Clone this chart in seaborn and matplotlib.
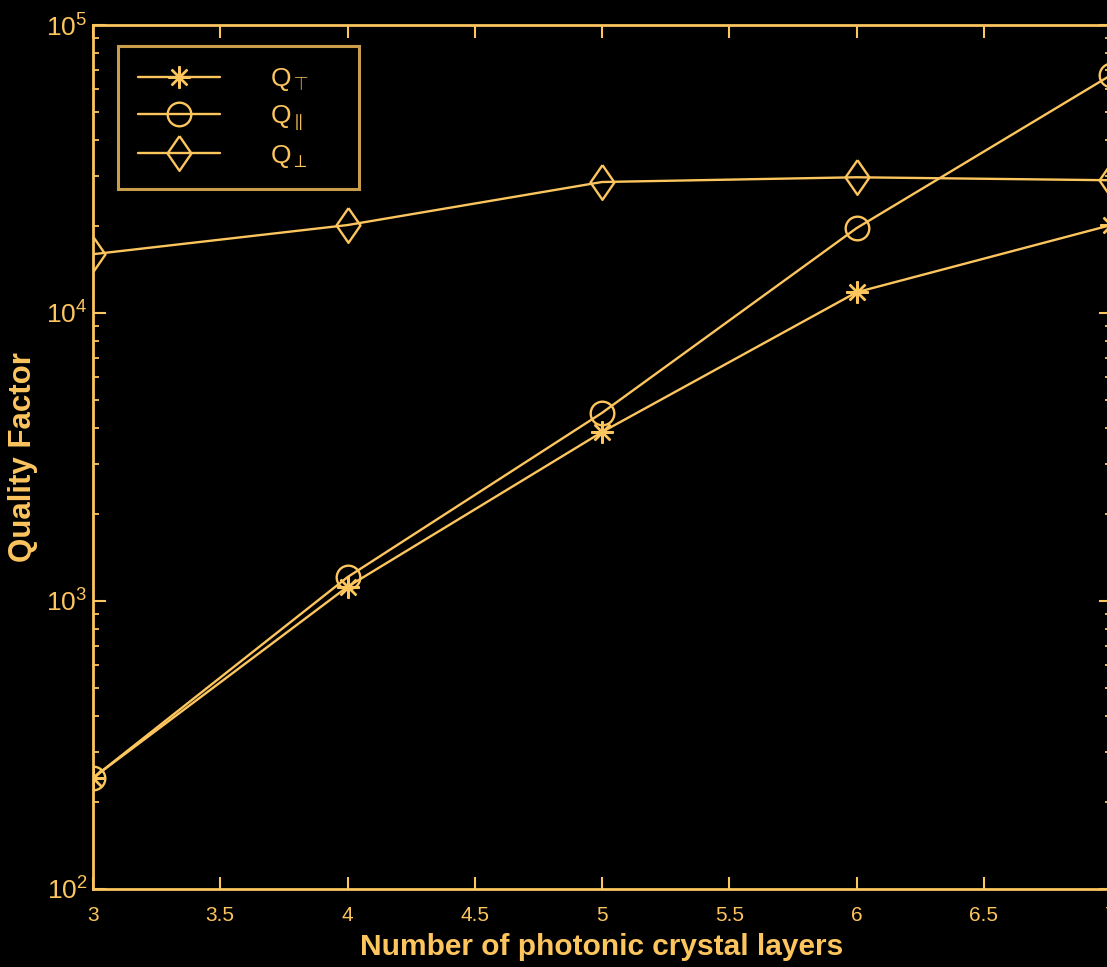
import matplotlib
matplotlib.use("Agg")
import matplotlib.pyplot as plt
import numpy as np
import pandas as pd
import seaborn as sns
from matplotlib import font_manager

# Q factor versus number of photonic crystal layers
layers = [3, 4, 5, 6, 7]
q_total = [243, 1120, 3860, 11800, 20200]
q_parallel = [243, 1210, 4500, 19700, 67000]
q_perp = [16000, 20200, 28500, 29600, 28900]

series_labels = [r"Q$_{\top}$", r"Q$_{\parallel}$", r"Q$_{\perp}$"]
x_ticks = [3, 3.5, 4, 4.5, 5, 5.5, 6, 6.5, 7]
x_tick_labels = ["3", "3.5", "4", "4.5", "5", "5.5", "6", "6.5", "7"]

INK = "#FDC55E"
BG = "#000000"

sns.set_style("ticks", {
    "axes.facecolor": BG,
    "figure.facecolor": BG,
    "axes.edgecolor": INK,
    "xtick.color": INK,
    "ytick.color": INK,
    "text.color": INK,
    "axes.labelcolor": INK,
})

available = {f.name for f in font_manager.fontManager.ttflist}
family = [f for f in ["Liberation Sans Narrow", "Liberation Sans", "DejaVu Sans"] if f in available]
plt.rcParams["font.family"] = family
plt.rcParams["mathtext.fontset"] = "custom"
plt.rcParams["mathtext.rm"] = family[0]
plt.rcParams["mathtext.it"] = family[0]
plt.rcParams["mathtext.sf"] = family[0]

fig = plt.figure(figsize=(11.07, 9.67), dpi=100)
W, H = 1107, 967
# axes box in pixels: left 93, right 1111, top 25, bottom 889
AX_L, AX_R, AX_T, AX_B = 93, 1111, 25, 889
ax = fig.add_axes([AX_L / W, (H - AX_B) / H, (AX_R - AX_L) / W, (AX_B - AX_T) / H])

df = pd.DataFrame({
    "layers": layers * 3,
    "Q": q_total + q_parallel + q_perp,
    "kind": [series_labels[0]] * 5 + [series_labels[1]] * 5 + [series_labels[2]] * 5,
})

# slightly wide diamond outline
diamond = [(0, 1), (0.69, 0), (0, -1), (-0.69, 0), (0, 1)]

marker_styles = {
    series_labels[0]: dict(marker=(8, 2, 0), markersize=16, mfc=INK),
    series_labels[1]: dict(marker="o", markersize=17, mfc="none"),
    series_labels[2]: dict(marker=diamond, markersize=25, mfc="none"),
}

for lab in series_labels:
    sub = df[df["kind"] == lab]
    sns.lineplot(data=sub, x="layers", y="Q", ax=ax, color=INK, linewidth=1.7,
                 markeredgecolor=INK, markeredgewidth=1.7, label=lab,
                 **marker_styles[lab])

ax.set_yscale("log")
ax.set_xlim(3, 7)
ax.set_ylim(1e2, 1e5)
ax.set_xticks(x_ticks)
ax.set_xticklabels(x_tick_labels)

for s in ax.spines.values():
    s.set_visible(True)
    s.set_linewidth(2.0)
    s.set_color(INK)

ax.tick_params(axis="both", which="major", direction="in", length=9, width=1.5,
               top=True, right=True, labelsize=15, colors=INK)
ax.tick_params(axis="x", which="major", pad=12)
ax.tick_params(axis="y", which="major", pad=4, labelsize=19)
ax.tick_params(axis="y", which="minor", direction="in", length=4.5, width=1.3,
               left=True, right=True, colors=INK)
ax.tick_params(axis="x", which="minor", bottom=False, top=False)

ax.set_xlabel("Number of photonic crystal layers", fontsize=21.5, fontweight="bold",
              labelpad=6, color=INK)
ax.set_ylabel("Quality Factor", fontsize=22.5, fontweight="bold", labelpad=6, color=INK)
ax.yaxis.set_label_coords(-(AX_L - 23) / (AX_R - AX_L), 0.5)
ax.xaxis.set_label_coords(0.5, -(947 - AX_B) / (AX_B - AX_T))
ax.xaxis.label.set_va("center")
ax.yaxis.label.set_va("center")

handles, labels = ax.get_legend_handles_labels()
ax_w, ax_h = AX_R - AX_L, AX_B - AX_T
leg = ax.legend(handles, labels, loc="upper left",
                bbox_to_anchor=((118 - AX_L) / ax_w, (AX_B - 46) / ax_h, (359 - 118) / ax_w, 0.0),
                mode="expand", borderaxespad=0, fontsize=19, numpoints=1,
                handlelength=3.1, handletextpad=1.9, labelspacing=0.4,
                borderpad=0.75, fancybox=False, frameon=True)
frame = leg.get_frame()
frame.set_facecolor(BG)
frame.set_edgecolor(INK)
frame.set_linewidth(2.2)
for t in leg.get_texts():
    t.set_color(INK)

fig.savefig("out.png", dpi=100, facecolor=BG)
